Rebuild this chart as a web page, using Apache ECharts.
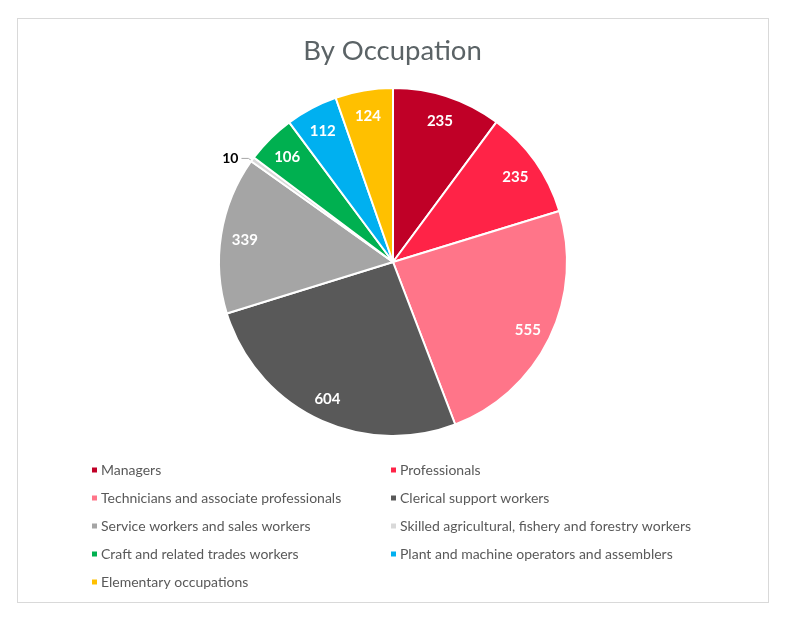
<!DOCTYPE html>
<html>
<head>
<meta charset="utf-8">
<script src="https://cdn.jsdelivr.net/npm/echarts@6/dist/echarts.min.js"></script>
<style>
  html, body { margin: 0; padding: 0; background: #fff; }
  #frame { position: absolute; left: 17px; top: 18px; width: 752px; height: 585px; border: 1px solid #d9d9d9; box-sizing: border-box; }
  #chart { width: 785px; height: 617px; }
</style>
</head>
<body>
<div id="frame"></div>
<div id="chart"></div>
<script>
// occupation categories, counts and colours
var categories = [
  'Managers',
  'Professionals',
  'Technicians and associate professionals',
  'Clerical support workers',
  'Service workers and sales workers',
  'Skilled agricultural, fishery and forestry workers',
  'Craft and related trades workers',
  'Plant and machine operators and assemblers',
  'Elementary occupations'
];
var counts = [235, 235, 555, 604, 339, 10, 106, 112, 124];
var colors = ['#c00027', '#ff2347', '#ff7589', '#595959', '#a5a5a5', '#d9d9d9', '#00b050', '#00b0f0', '#ffc000'];

var font = 'Lato, "Open Sans", sans-serif';

var pieData = categories.map(function (name, i) {
  return { name: name, value: counts[i], itemStyle: { color: colors[i] } };
});

// label ring: same slices, transparent, so the inside labels sit near the rim
var labelData = categories.map(function (name, i) {
  var d = { name: name, value: counts[i] };
  if (counts[i] < 30) {
    d.label = {
      position: 'outside', color: '#000', fontWeight: 'bold', fontSize: 14,
      distanceToLabelLine: 3
    };
    d.labelLine = { show: true, length: 9, length2: 7, lineStyle: { color: '#a5a5a5', width: 1 } };
  }
  return d;
});

var leftNames = categories.filter(function (c, i) { return i % 2 === 0; });
var rightNames = categories.filter(function (c, i) { return i % 2 === 1; });

var legendBase = {
  orient: 'vertical',
  top: 458,
  icon: 'rect',
  itemWidth: 7,
  itemHeight: 7,
  itemGap: 14,
  textStyle: { color: '#595959', fontSize: 14, fontFamily: font, padding: [0, 0, 0, -2] }
};

var myChart = echarts.init(document.getElementById('chart'));
myChart.setOption({
  animation: false,
  color: colors,
  title: {
    text: 'By Occupation',
    left: 'center',
    top: 32,
    textStyle: { color: '#5b6366', fontSize: 27.5, fontWeight: 'normal', fontFamily: font }
  },
  legend: [
    Object.assign({ left: 85, data: leftNames }, legendBase),
    Object.assign({ left: 384, data: rightNames }, legendBase)
  ],
  series: [
    {
      type: 'pie',
      center: [393, 262],
      radius: [0, 174],
      startAngle: 90,
      clockwise: true,
      avoidLabelOverlap: false,
      label: { show: false },
      labelLine: { show: false },
      itemStyle: { borderColor: '#fff', borderWidth: 2 },
      emphasis: { disabled: true },
      data: pieData
    },
    {
      type: 'pie',
      center: [393, 264],
      radius: [124, 170],
      startAngle: 90,
      clockwise: true,
      silent: true,
      avoidLabelOverlap: false,
      legendHoverLink: false,
      itemStyle: { color: 'rgba(0,0,0,0)' },
      label: {
        show: true,
        position: 'inside',
        formatter: '{c}',
        color: '#fff',
        fontWeight: 'bold',
        fontSize: 15,
        fontFamily: font
      },
      labelLine: { show: false },
      emphasis: { disabled: true },
      data: labelData
    }
  ]
});
</script>
</body>
</html>
